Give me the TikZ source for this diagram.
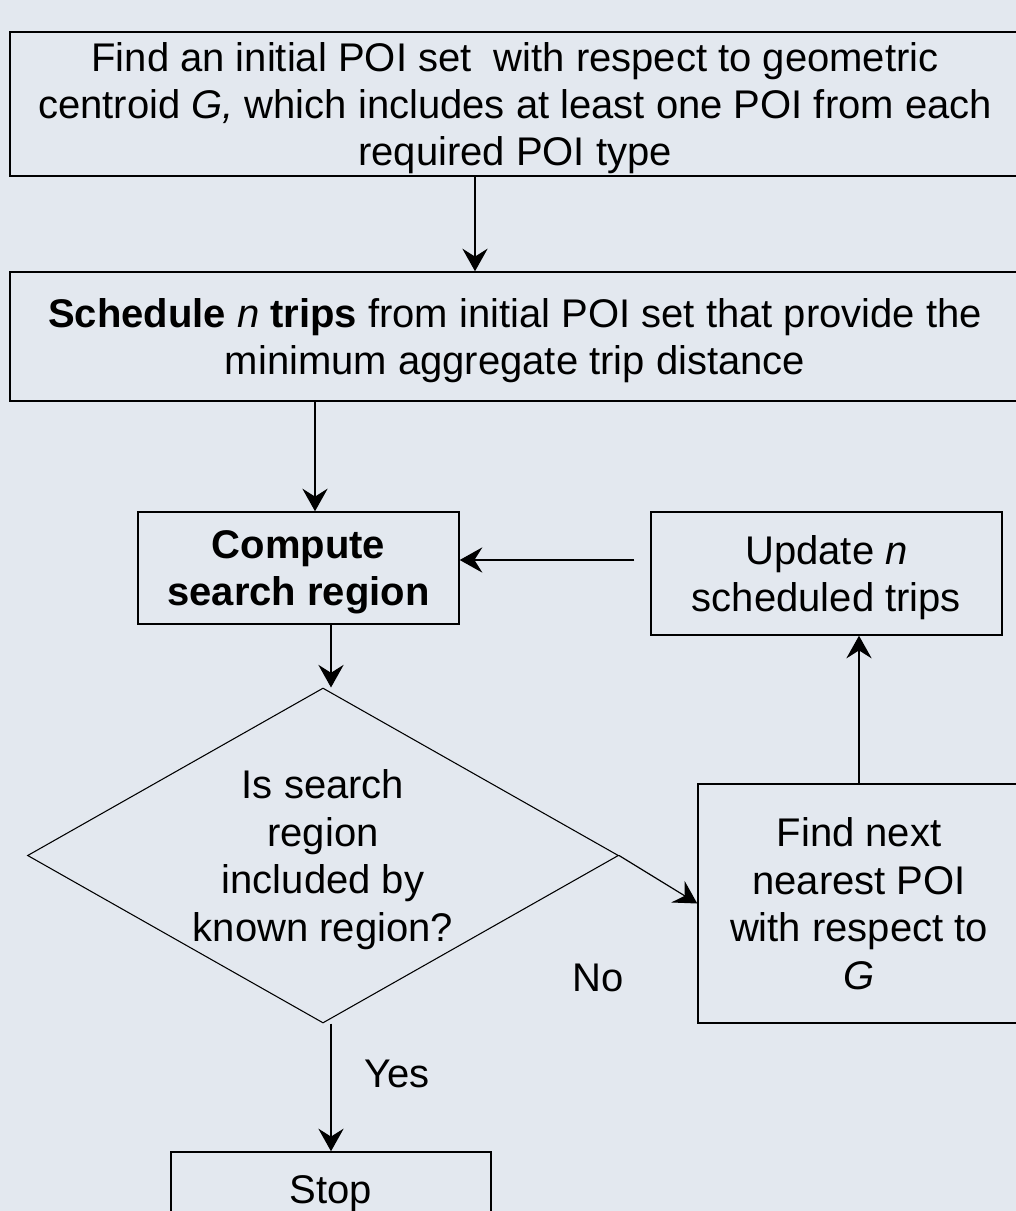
\documentclass[tikz,border=0pt]{standalone}
\usepackage{fontspec}
\setmainfont{Liberation Sans}
\usetikzlibrary{arrows.meta,positioning,calc}
\usetikzlibrary{shapes.geometric}
\definecolor{slatebg}{RGB}{227,232,239}

\begin{document}
\begin{tikzpicture}[x=0.75pt,y=-0.75pt,>={Stealth[length=17pt,width=19pt,inset=6pt]},
  every node/.style={font=\fontsize{30}{35.6}\selectfont,align=center,inner sep=0pt},
  stepbox/.style={draw,line width=1.1pt,text depth=0pt},
  decide/.style={draw,diamond,line width=0.8pt,aspect=1.76,text depth=0pt},
  flow/.style={->,line width=0.9pt}]
  \useasboundingbox (0,0) rectangle (1016,1211);
  \clip (0,0) rectangle (1016,1211);
  \fill[slatebg] (0,0) rectangle (1016,1211);
  \node[stepbox,minimum width=757.5pt,minimum height=108pt] (init) at (515,104)
    {Find an initial POI set~ with respect to geometric\\ centroid \textit{G,} which includes at least one POI from each\\ required POI type};
  \node[stepbox,minimum width=757.5pt,minimum height=96.75pt] (sched) at (515,336.5)
    {\textbf{Schedule} \textit{n} \textbf{trips} from initial POI set that provide the\\ minimum aggregate trip distance};
  \node[stepbox,minimum width=240.75pt,minimum height=84pt,font=\fontsize{30}{35.6}\selectfont\bfseries] (comp) at (298.5,568) {Compute\\ search region};
  \node[stepbox,minimum width=263.25pt,minimum height=92.25pt] (upd) at (826.5,573.5) {Update \textit{n}\\ scheduled trips};
  \node[decide,minimum width=443.25pt,minimum height=251.25pt] (chk) at (323,855.5) {Is search\\ region\\ included by\\ known region?};
  \node[stepbox,minimum width=241.5pt,minimum height=179.25pt] (nxt) at (859,903.5) {Find next\\ nearest POI\\ with respect to\\ \textit{G}};
  \node[stepbox,minimum width=240pt,minimum height=57pt] (stop) at (331,1190) {Stop};
  \node (no) at (598,978) {No};
  \node (yes) at (397,1074) {Yes};
  \draw[flow] ($(init.south)+(-40,0)$) coordinate (a1) -- (a1 |- sched.north);
  \draw[flow] ($(sched.south)+(-200,0)$) coordinate (a2) -- (a2 |- comp.north);
  \draw[flow] ($(comp.south)+(32.5,0)$) coordinate (a3) -- (a3 |- chk.north);
  \draw[flow] ($(upd.west)+(-16,-13.5)$) coordinate (a4) -- (a4 -| comp.east);
  \draw[flow] (chk.east) -- (nxt.west);
  \draw[flow] (nxt.north) -- (nxt.north |- upd.south);
  \draw[flow] ($(chk.south)+(8,0)$) coordinate (a5) -- (a5 |- stop.north);
\end{tikzpicture}
\end{document}
